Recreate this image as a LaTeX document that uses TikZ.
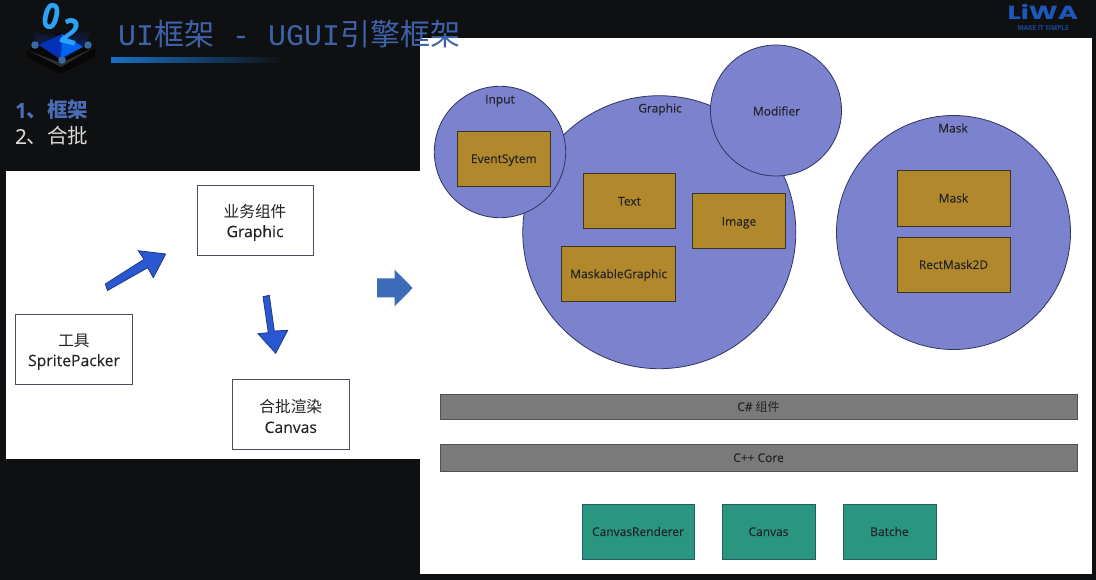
\documentclass[tikz,border=0pt]{standalone}
\usepackage{fontspec}
\setmainfont[FakeBold=0.25]{Open Sans}
\newfontfamily\cjk{Noto Sans CJK SC}
\newfontfamily\titlemono{Liberation Mono}
\newfontfamily\logofont{Poppins}
\definecolor{pagebg}{HTML}{0F1012}
\definecolor{titleblue}{HTML}{3D62A8}
\definecolor{itemblue}{HTML}{4A6DB5}
\definecolor{itemgrey}{HTML}{D8D8D8}
\definecolor{circfill}{HTML}{7B82CE}
\definecolor{circline}{HTML}{30365F}
\definecolor{goldfill}{HTML}{B1892C}
\definecolor{goldline}{HTML}{3B3421}
\definecolor{barfill}{HTML}{7A7A7A}
\definecolor{barline}{HTML}{50505A}
\definecolor{tealfill}{HTML}{2A9680}
\definecolor{tealline}{HTML}{235F5F}
\definecolor{arrowfill}{HTML}{2B57D2}
\definecolor{arrowline}{HTML}{1D3A82}
\definecolor{bigarrow}{HTML}{3C6CB8}
\definecolor{labelink}{HTML}{242428}
\definecolor{logoblue}{HTML}{1C58BC}
\definecolor{boxline}{HTML}{4A4F60}
\definecolor{digitblue}{HTML}{2AA4F4}
\tikzset{
  panel/.style={fill=white,draw=none},
  whitebox/.style={draw=boxline,line width=0.9pt,fill=white,inner sep=0pt,align=center,text=labelink,font=\fontsize{15.7}{20}\selectfont},
  bubble/.style={circle,fill=circfill,draw=circline,line width=0.8pt,inner sep=0pt},
  smalltext/.style={text height=11pt,text depth=2pt,text=labelink,font=\fontsize{12}{14}\selectfont},
  bubblelabel/.style={inner sep=0pt,smalltext},
  goldbox/.style={fill=goldfill,draw=goldline,line width=0.8pt,inner sep=0pt,smalltext},
  barbox/.style={fill=barfill,draw=barline,line width=0.8pt,inner sep=0pt,smalltext},
  tealbox/.style={fill=tealfill,draw=tealline,line width=0.8pt,inner sep=0pt,smalltext},
  flowarrow/.style={fill=arrowfill,draw=arrowline,line width=0.8pt,line join=miter},
  listitem/.style={anchor=west,inner sep=0pt,font=\fontsize{20.5}{24}\selectfont},
  digit/.style={inner sep=0pt,text=digitblue,font=\bfseries\fontsize{30}{30}\selectfont,rotate=-14,yscale=1.2},
}
\newcommand{\boxat}[7]{\node[#1,minimum width=#5pt-#3pt,minimum height=#6pt-#4pt] (#2) at ({(#3+#5)/2},{(#4+#6)/2}) {#7};}
\newcommand{\lowerline}{\rule{0pt}{18pt}}
\begin{document}
\begin{tikzpicture}[x=1pt,y=-1pt]
\useasboundingbox (0,0) rectangle (1096,580);
\fill[pagebg] (0,0) rectangle (1096,580);

% logo
\fill[black!55!pagebg] (27,50) -- (60,32) -- (95,47) -- (95,57) -- (61,74) -- (27,57) -- cycle;
\fill[white!12!pagebg] (27,50) -- (61,67) -- (95,47) -- (61,63) -- cycle;
\shade[top color=pagebg,bottom color=blue!70!cyan!55!pagebg] (32,32) -- (60,36) -- (94,28) -- (82,47) -- (61,60) -- (40,46) -- cycle;
\fill[blue!75!cyan!70!pagebg] (39,45) -- (62,34) -- (61,58) -- cycle;
\fill[blue!60!cyan!95!pagebg] (62,34) -- (83,47) -- (61,58) -- cycle;
\foreach \lx/\ly in {35/45, 88/45, 62/60}
  \fill[cyan!50!blue!75!pagebg] (\lx,\ly) circle (3.8);
\node[digit] (digitzero) at (51,16) {0};
\node[digit] (digittwo) at (70,31) {2};

% panels
\fill[panel] (6,171) rectangle (420,459);
\fill[panel] (420,38) rectangle (1092,574);

% title
\node[anchor=west,inner sep=0pt,text=titleblue,font=\titlemono\fontsize{30}{32}\selectfont] (title) at (118,34)
  {UI{\cjk 框架} - UGUI{\cjk 引擎框架}};
\shade[left color=logoblue!85!cyan,right color=pagebg] (111,58) rectangle (285,63);

% brand
\node[inner sep=0pt,text=logoblue,font=\logofont\bfseries\fontsize{19}{19}\selectfont,xscale=1.45] (brand) at (1043,12) {LiWA};
\node[inner sep=0pt,text=logoblue!65!pagebg,font=\bfseries\fontsize{6.5}{6.5}\selectfont] (tagline) at (1043,27.5) {MAKE IT SIMPLE};

% list
\node[listitem,text=itemblue,font=\bfseries\fontsize{20.5}{24}\selectfont] (itemone) at (15,110) {1{\cjk\bfseries 、框架}};
\node[listitem,text=itemgrey] (itemtwo) at (15,136) {2{\cjk 、合批}};

% left flow
\boxat{whitebox}{graphicflow}{197}{185}{313}{255}{\lowerline{\cjk 业务组件}\\Graphic}
\boxat{whitebox}{packer}{15.5}{314}{132.5}{384}{\lowerline{\cjk 工具}\\SpritePacker}
\boxat{whitebox}{canvasflow}{232.5}{379}{349}{449}{\lowerline{\cjk 合批渲染}\\Canvas}
\filldraw[flowarrow] (107.5,290.5) -- (105.3,284) -- (144,259.3) -- (138.3,250.7) -- (165.7,254) -- (153.3,277.7) -- (147.7,267.7) -- cycle;
\filldraw[flowarrow] (263,296.7) -- (269.3,295.3) -- (274.3,331) -- (287.7,330.3) -- (275.7,353.3) -- (258,333.7) -- (268.3,332.7) -- cycle;
\fill[bigarrow] (377,278.3) -- (394.7,278.3) -- (394.7,269.7) -- (412.7,288) -- (394.7,306.3) -- (394.7,297.3) -- (377,297.3) -- cycle;

% bubbles
\node[bubble,minimum size=273pt] (graphiccirc) at (659.3,232.2) {};
\node[bubble,minimum size=131.4pt] (inputcirc) at (500,152) {};
\node[bubble,minimum size=131pt] (modifiercirc) at (776,110.5) {};
\node[bubble,minimum size=234pt] (maskcirc) at (953.5,232.5) {};
\node[bubblelabel] (inputlabel) at (500,99) {Input};
\node[bubblelabel] (graphiclabel) at (660,108) {Graphic};
\node[bubblelabel] (modifierlabel) at (776.5,111) {Modifier};
\node[bubblelabel] (masklabel) at (953,128) {Mask};

\boxat{goldbox}{eventbox}{457.3}{131}{550.3}{186}{EventSytem}
\boxat{goldbox}{textbox}{583.3}{173.3}{675.7}{228.7}{Text}
\boxat{goldbox}{imagebox}{692.7}{193.7}{785.3}{248.7}{Image}
\boxat{goldbox}{maskablebox}{561.7}{246}{675.7}{301.3}{MaskableGraphic}
\boxat{goldbox}{maskbox}{897}{170}{1010}{226}{Mask}
\boxat{goldbox}{rectmaskbox}{897}{237}{1010}{292}{RectMask2D}

% bars
\boxat{barbox}{csharpbar}{440}{394}{1077}{419}{C\# {\cjk 组件}}
\boxat{barbox}{cppbar}{440}{444}{1077}{471}{C++ Core}

% teal
\boxat{tealbox}{rendererbox}{582}{504}{694}{559}{CanvasRenderer}
\boxat{tealbox}{canvasbox}{722}{504}{815}{559}{Canvas}
\boxat{tealbox}{batchebox}{843}{504}{936}{559}{Batche}
\end{tikzpicture}
\end{document}
